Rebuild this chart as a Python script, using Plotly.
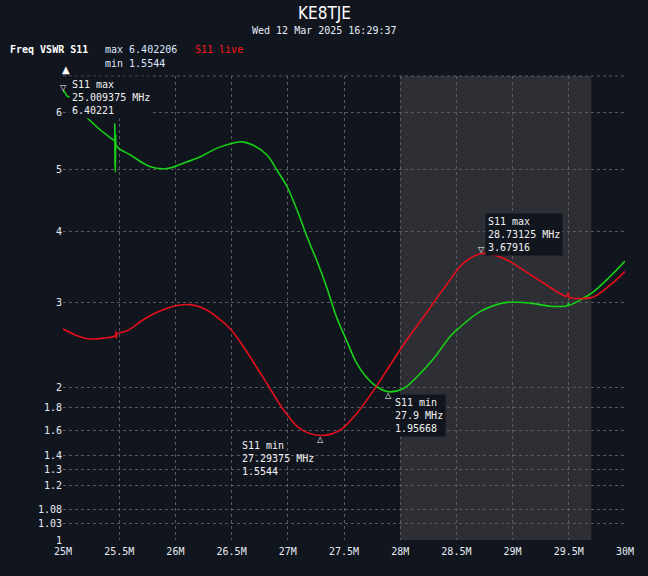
import plotly.graph_objects as go

# ---------------- data ----------------
freq_green = [25.000, 25.009375, 25.022, 25.037, 25.058, 25.209, 25.422, 25.455, 25.460, 25.463,
              25.466, 25.469, 25.473, 25.493, 25.600, 25.778, 25.926, 26.071, 26.222, 26.371,
              26.516, 26.593, 26.693, 26.815, 26.904, 26.993, 27.082, 27.182, 27.262, 27.342,
              27.431, 27.520, 27.609, 27.698, 27.796, 27.900, 28.029, 28.148, 28.296, 28.444,
              28.504, 28.711, 28.948, 29.156, 29.333, 29.490, 29.496, 29.502, 29.600, 29.718,
              29.867, 30.000]
vswr_green = [6.38, 6.40221, 6.36, 6.31, 6.29, 5.92, 5.55, 5.51, 5.80, 5.10,
              4.96, 5.60, 5.42, 5.37, 5.25, 5.05, 5.02, 5.11, 5.22, 5.37,
              5.46, 5.48, 5.42, 5.25, 4.99, 4.72, 4.34, 3.88, 3.56, 3.22,
              2.82, 2.53, 2.27, 2.11, 2.005, 1.95668, 1.99, 2.11, 2.31, 2.57,
              2.65, 2.88, 3.00, 2.99, 2.95, 2.96, 2.99, 2.965, 3.03, 3.14,
              3.35, 3.57]

freq_red = [25.000, 25.126, 25.244, 25.363, 25.467, 25.470, 25.475, 25.480, 25.571, 25.718,
            25.867, 26.015, 26.133, 26.252, 26.371, 26.489, 26.607, 26.756, 26.815, 26.963,
            27.111, 27.29375, 27.467, 27.615, 27.763, 27.911, 28.060, 28.207, 28.356, 28.415,
            28.563, 28.73125, 28.918, 29.096, 29.274, 29.482, 29.496, 29.502, 29.600, 29.718,
            29.867, 30.000]
vswr_red = [2.66, 2.58, 2.54, 2.55, 2.58, 2.63, 2.55, 2.60, 2.64, 2.78,
            2.89, 2.96, 2.97, 2.92, 2.81, 2.66, 2.445, 2.15, 2.04, 1.78,
            1.61, 1.5544, 1.60, 1.75, 1.97, 2.24, 2.53, 2.81, 3.12, 3.24,
            3.54, 3.67916, 3.61, 3.44, 3.26, 3.08, 3.13, 3.07, 3.05, 3.07,
            3.23, 3.42]

ytick_vals = [1, 1.03, 1.08, 1.2, 1.3, 1.4, 1.6, 1.8, 2, 3, 4, 5, 6]
ytick_text = ["1", "1.03", "1.08", "1.2", "1.3", "1.4", "1.6", "1.8", "2", "3", "4", "5", "6"]
xtick_vals = [25, 25.5, 26, 26.5, 27, 27.5, 28, 28.5, 29, 29.5, 30]
xtick_text = ["25M", "25.5M", "26M", "26.5M", "27M", "27.5M", "28M", "28.5M", "29M", "29.5M", "30M"]

shade_band = [28.0, 29.7]

# markers: (freq, vswr, label, kind)
marker_pts = [
    (25.009375, 6.40221, "S11 max<br>25.009375 MHz<br>6.40221", "max"),
    (27.29375, 1.5544, "S11 min<br>27.29375 MHz<br>1.5544", "min"),
    (27.9, 1.95668, "S11 min<br>27.9 MHz<br>1.95668", "min"),
    (28.73125, 3.67916, "S11 max<br>28.73125 MHz<br>3.67916", "max"),
]

# ---------------- scale ----------------
P = 0.64
def T(v):
    return (v - 1.0) ** P

Y_TOP = T(6.69)

BG = "#11151d"
GRID = "rgba(95,97,104,0.9)"
TXT = "#e6ecf5"
GREEN = "#17d117"
RED = "#e3101c"
MONO = "DejaVu Sans Mono, monospace"

fig = go.Figure()

fig.add_trace(go.Scatter(x=freq_green, y=[T(v) for v in vswr_green], mode="lines",
                         line=dict(color=GREEN, width=1.6, shape="spline", smoothing=1.0),
                         hoverinfo="skip", showlegend=False))
fig.add_trace(go.Scatter(x=freq_red, y=[T(v) for v in vswr_red], mode="lines",
                         line=dict(color=RED, width=1.6, shape="spline", smoothing=1.0),
                         hoverinfo="skip", showlegend=False))

shapes = [
    dict(type="rect", xref="x", yref="paper", x0=shade_band[0], x1=shade_band[1], y0=0, y1=1,
         fillcolor="#2d2f34", line=dict(width=0), layer="below"),
    dict(type="line", xref="paper", yref="paper", x0=0, x1=1, y0=1, y1=1,
         line=dict(color=GRID, width=1, dash="3px,3px")),
]

ann = []

def pp(px, py):
    return (px - 62.5) / 562.5, (540 - py) / 464.0

x, y = pp(324, 13)
ann.append(dict(text="KE8TJE", xref="paper", yref="paper", x=x, y=y, xanchor="center",
                yanchor="middle", showarrow=False,
                font=dict(family="Liberation Sans Narrow, DejaVu Sans Condensed, sans-serif", size=17, color="#ffffff")))
x, y = pp(324, 30)
ann.append(dict(text="Wed 12 Mar 2025 16:29:37", xref="paper", yref="paper", x=x, y=y, xanchor="center",
                yanchor="middle", showarrow=False, font=dict(family=MONO, size=10, color="#e8eef8")))

for (txt, px, py, col, bold) in [("Freq VSWR S11", 7, 50, "#ffffff", True),
                                   ("max 6.402206", 103, 50, "#dfe8ff", False),
                                   ("S11 live", 193, 50, "#ff1a1a", False),
                                   ("min 1.5544", 103, 64, "#dfe8ff", False)]:
    x, y = pp(px, py)
    t = "<b>%s</b>" % txt if bold else txt
    ann.append(dict(text=t, xref="paper", yref="paper", x=x, y=y, xanchor="left", yanchor="middle",
                    showarrow=False, font=dict(family=MONO, size=10, color=col)))

x, y = pp(66, 70)
ann.append(dict(text="▲", xref="paper", yref="paper", x=x, y=y, xanchor="center", yanchor="middle",
                showarrow=False, font=dict(family="DejaVu Sans", size=10, color="#ffffff")))

# marker labels
label_cfg = [
    dict(xanchor="left", yanchor="top", xshift=5, yshift=15, bg=BG),
    dict(xanchor="right", yanchor="top", xshift=-4, yshift=-2, bg="rgba(0,0,0,0)"),
    dict(xanchor="left", yanchor="top", xshift=3, yshift=-2, bg=BG),
    dict(xanchor="left", yanchor="bottom", xshift=3, yshift=-3, bg=BG),
]
for (f, v, lab, kind), cfg in zip(marker_pts, label_cfg):
    sym = "▽" if kind == "max" else "△"
    ann.append(dict(text=sym, x=f, y=T(v), xref="x", yref="y", showarrow=False,
                    yshift=4 if kind == "max" else -4, xshift=-0.5,
                    font=dict(family="DejaVu Sans", size=8, color="#ffffff")))
    ann.append(dict(text=lab, x=f, y=T(v), xref="x", yref="y", showarrow=False, align="left",
                    xanchor=cfg["xanchor"], yanchor=cfg["yanchor"], xshift=cfg["xshift"], yshift=cfg["yshift"],
                    bgcolor=cfg["bg"], borderpad=2,
                    font=dict(family=MONO, size=10, color="#f2f2f2")))

fig.update_layout(
    width=648, height=576,
    margin=dict(l=62.5, r=23, t=76, b=36),
    paper_bgcolor=BG, plot_bgcolor=BG,
    shapes=shapes, annotations=ann,
    showlegend=False,
    xaxis=dict(range=[25, 30], tickvals=xtick_vals, ticktext=xtick_text, showgrid=True,
               gridcolor=GRID, griddash="3px,3px", gridwidth=1, zeroline=False, showline=False,
               ticks="", ticklabelstandoff=4, tickfont=dict(family=MONO, size=10, color=TXT), fixedrange=True),
    yaxis=dict(range=[0, Y_TOP], tickvals=[T(v) for v in ytick_vals], ticktext=ytick_text,
               showgrid=True, gridcolor=GRID, griddash="3px,3px", gridwidth=1, zeroline=False,
               showline=False, ticks="", tickfont=dict(family=MONO, size=10, color=TXT), fixedrange=True),
)

fig.write_html("out.html", config={"displayModeBar": False},
               post_script="document.body.style.margin='0';document.body.style.background='%s';" % BG)
